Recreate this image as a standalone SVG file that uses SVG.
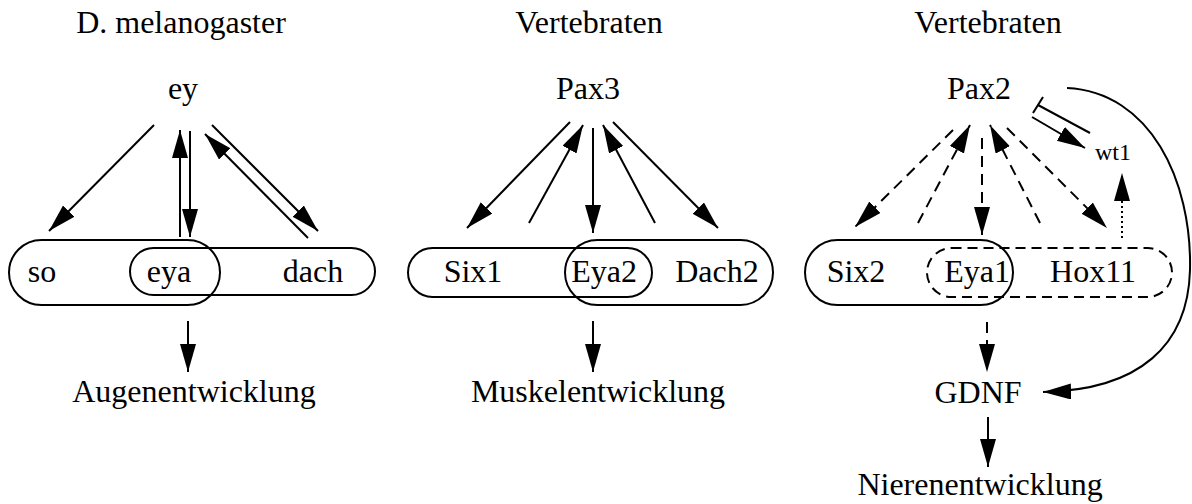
<svg xmlns="http://www.w3.org/2000/svg" width="1192" height="504" viewBox="0 0 1192 504">
<style>
text{font-family:"Liberation Serif","Times New Roman",serif;font-size:32px;fill:#000;text-anchor:middle}
.small{font-size:24px}
.ln{fill:none;stroke:#000;stroke-width:2}
.arr{marker-end:url(#ah)}
.dash{stroke-dasharray:11,7}
.dot{stroke-dasharray:2,3}
.box{fill:none;stroke:#000;stroke-width:2}
.dbox{stroke-dasharray:10,6}
</style>
<defs>
<marker id="ah" markerUnits="userSpaceOnUse" markerWidth="30" markerHeight="18" refX="28" refY="8" orient="auto">
<path d="M0,0 L28,8 L0,16 z" fill="#000"/>
</marker>
</defs>
<g id="titles">
<text x="181" y="33">D. melanogaster</text>
<text x="589" y="33">Vertebraten</text>
<text x="988" y="33">Vertebraten</text>
</g>
<g id="panel1">
<g id="n-ey"><text x="183" y="99">ey</text></g>
<g id="n-so-eya"><rect class="box" x="9" y="240" width="211" height="65" rx="32.5"/></g>
<g id="n-eya-dach"><rect class="box" x="130" y="248" width="245" height="47" rx="23.5"/></g>
<g id="n-so"><text x="42" y="282">so</text></g>
<g id="n-eya"><text x="169" y="282">eya</text></g>
<g id="n-dach"><text x="313" y="282">dach</text></g>
<g id="n-augen"><text x="194" y="402">Augenentwicklung</text></g>
</g>
<g id="panel2">
<g id="n-pax3"><text x="588" y="99">Pax3</text></g>
<g id="n-six1-eya2"><rect class="box" x="408" y="248" width="244" height="49" rx="24.5"/></g>
<g id="n-eya2-dach2"><rect class="box" x="565" y="240" width="208" height="65" rx="32.5"/></g>
<g id="n-six1"><text x="473" y="282">Six1</text></g>
<g id="n-eya2"><text x="604" y="282">Eya2</text></g>
<g id="n-dach2"><text x="717" y="282">Dach2</text></g>
<g id="n-muskel"><text x="598" y="402">Muskelentwicklung</text></g>
</g>
<g id="panel3">
<g id="n-pax2"><text x="979" y="99">Pax2</text></g>
<g id="n-wt1"><text class="small" x="1113" y="160">wt1</text></g>
<g id="n-six2-eya1"><rect class="box" x="805" y="240" width="208" height="65" rx="32.5"/></g>
<g id="n-eya1-hox11"><rect class="box dbox" x="927" y="248" width="245" height="49" rx="24.5"/></g>
<g id="n-six2"><text x="856" y="282">Six2</text></g>
<g id="n-eya1"><text x="977" y="282">Eya1</text></g>
<g id="n-hox11"><text x="1093" y="282">Hox11</text></g>
<g id="n-gdnf"><text x="978" y="403">GDNF</text></g>
<g id="n-nieren"><text x="980" y="495">Nierenentwicklung</text></g>
</g>
<g id="connectors">
<!-- panel 1 -->
<line class="ln arr" x1="154" y1="125" x2="49" y2="231"/>
<line class="ln arr" x1="180" y1="237" x2="180" y2="130"/>
<line class="ln arr" x1="190" y1="131" x2="190" y2="237"/>
<line class="ln arr" x1="308" y1="238" x2="205" y2="134"/>
<line class="ln arr" x1="212" y1="125" x2="318" y2="231"/>
<line class="ln arr" x1="188" y1="321" x2="188" y2="372"/>
<!-- panel 2 -->
<line class="ln arr" x1="570" y1="122" x2="467" y2="228"/>
<line class="ln arr" x1="529" y1="223" x2="583" y2="125"/>
<line class="ln arr" x1="593" y1="128" x2="593" y2="233"/>
<line class="ln arr" x1="655" y1="223" x2="603" y2="125"/>
<line class="ln arr" x1="613" y1="122" x2="718" y2="228"/>
<line class="ln arr" x1="593" y1="321" x2="593" y2="372"/>
<!-- panel 3 -->
<line class="ln arr dash" x1="953" y1="130" x2="855" y2="227"/>
<line class="ln arr dash" x1="918" y1="223" x2="970" y2="125"/>
<line class="ln arr dash" x1="982" y1="138" x2="982" y2="235"/>
<line class="ln arr dash" x1="1040" y1="223" x2="990" y2="125"/>
<line class="ln arr dash" x1="1007" y1="128" x2="1107" y2="228"/>
<line class="ln arr dot" x1="1122" y1="238" x2="1122" y2="173"/>
<line class="ln" x1="1090" y1="133" x2="1038" y2="105"/>
<line class="ln" x1="1033" y1="113" x2="1043" y2="97"/>
<line class="ln arr" x1="1032" y1="117" x2="1085" y2="148"/>
<line class="ln arr dash" x1="987" y1="322" x2="987" y2="372"/>
<path class="ln arr" d="M1067,88 C1150,92 1192,180 1190,270 C1188,345 1140,390 1043,392"/>
<line class="ln arr" x1="988" y1="417" x2="988" y2="467"/>
</g>
</svg>
